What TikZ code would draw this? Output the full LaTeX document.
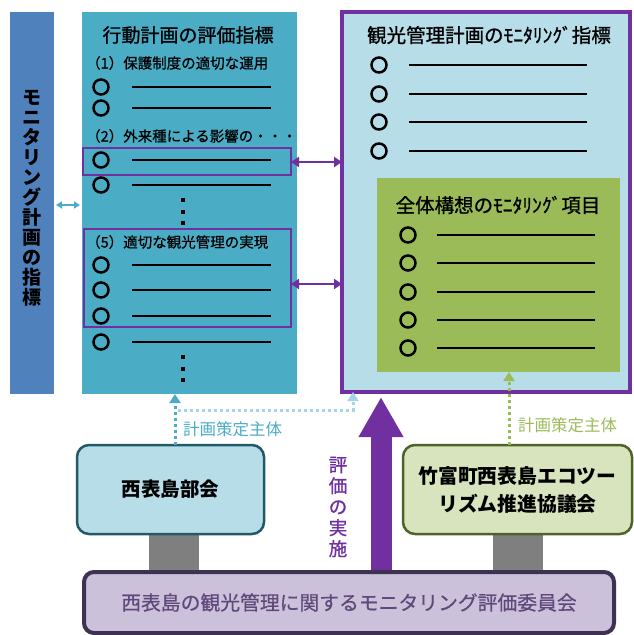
\documentclass[tikz,border=0pt]{standalone}
\usepackage{fontspec}
\setmainfont{Noto Sans CJK JP}
\newfontfamily\jpsemi[FakeBold=1.0]{Noto Sans CJK JP}
\newfontfamily\jplite[FakeBold=0.6]{Noto Sans CJK JP}
\usetikzlibrary{arrows.meta}
\definecolor{barblue}{HTML}{4F81BD}
\definecolor{actfill}{HTML}{4BACC6}
\definecolor{ltblue}{HTML}{B7DDE8}
\definecolor{purp}{HTML}{7030A0}
\definecolor{grn}{HTML}{9BBB59}
\definecolor{ltgrn}{HTML}{D7E4BD}
\definecolor{dkteal}{HTML}{215968}
\definecolor{dkolive}{HTML}{4F6228}
\definecolor{dkpurp}{HTML}{3F3151}
\definecolor{lav}{HTML}{CCC1DA}
\definecolor{lavtext}{HTML}{5F497A}
\definecolor{paleblue}{HTML}{A5D5E6}
\definecolor{greyc}{HTML}{7F7F7F}
\newcommand{\fsz}[2]{\fontsize{#1}{#2}\selectfont}
\begin{document}
\begin{tikzpicture}[x=1pt,y=-1pt,
  box/.style={anchor=north west, inner sep=0pt, outer sep=0pt},
  bullet/.style={circle, draw=black, line width=2.5pt, minimum size=15pt, inner sep=0pt},
  rule/.style={line width=2pt, black},
  dotmark/.style={fill=black, minimum size=3.5pt, inner sep=0pt},
  head/.style={anchor=west, inner sep=0pt, font=\jplite\fsz{14.5}{15}},
  dotline/.style={line width=3pt, dash pattern=on 3pt off 3pt},
  tri/.style={-{Triangle[length=9pt,width=11pt]}},
  dbl/.style={{Triangle[length=8pt,width=10pt]}-{Triangle[length=8pt,width=10pt]}}
]
\useasboundingbox (0,0) rectangle (633,635);

% left bar
\node[box, fill=barblue, minimum width=44pt, minimum height=382pt] (bar) at (10,12) {};
\node[inner sep=0pt, align=center, font=\bfseries\fsz{19}{20}] (bartext) at (32,198)
  {モ\\ニ\\タ\\リ\\ン\\グ\\計\\画\\の\\指\\標};

% action plan box
\node[box, fill=actfill, minimum width=215pt, minimum height=382pt] (act) at (82,12) {};
\node[inner sep=0pt, font=\jpsemi\fsz{19}{20}] (acttitle) at (188,35) {行動計画の評価指標};
\node[head] (h1) at (86,63) {（1）保護制度の適切な運用};
\node[head] (h2) at (86,136) {（2）外来種による影響の・・・};
\node[head] (h5) at (86,242) {（5）適切な観光管理の実現};
\foreach \y in {87,108,160,185,265,290,316,342} {
  \node[bullet] at (101,\y) {};
  \draw[rule] (132,\y) -- (271,\y);
}
\foreach \y in {200,212,223,357,369,380} \node[dotmark] at (183,\y) {};
\node[box, draw=purp, line width=2pt, minimum width=208pt, minimum height=27pt] (pb1) at (83,148) {};
\node[box, draw=purp, line width=2pt, minimum width=207pt, minimum height=98pt] (pb2) at (84,229) {};

% big box
\node[box, fill=ltblue, draw=purp, line width=3.5pt, minimum width=288pt, minimum height=380pt] (big) at (342,12) {};
\node[inner sep=0pt, font=\jpsemi\fsz{19.5}{20}] (bigtitle) at (489,35) {観光管理計画のﾓﾆﾀﾘﾝｸﾞ指標};
\foreach \y in {65,94,122,151} {
  \node[bullet] at (379,\y) {};
  \draw[rule] (409,\y) -- (587,\y);
}
% green box
\node[box, fill=grn, minimum width=243pt, minimum height=194pt] (gbox) at (377,178) {};
\node[inner sep=0pt, font=\jpsemi\fsz{19.5}{20}] (gtitle) at (498,205) {全体構想のﾓﾆﾀﾘﾝｸﾞ項目};
\foreach \y in {235,263,292,320,348} {
  \node[bullet] at (408,\y) {};
  \draw[rule] (437,\y) -- (595,\y);
}

% purple double arrows
\draw[purp, line width=2pt, dbl] ([yshift=-0.5pt]pb1.east) -- ([yshift=-0.5pt]pb1.east -| big.west);
\draw[purp, line width=2pt, dbl] ([yshift=-6pt]pb2.east) -- ([yshift=-6pt]pb2.east -| big.west);
% teal double arrow
\draw[actfill, line width=2pt, {Triangle[length=6pt,width=7pt]}-{Triangle[length=6pt,width=7pt]}, shorten <=2pt, shorten >=2pt] ([yshift=-2pt]bar.east) -- ([yshift=-2pt]act.west);

% grey connectors
\node[box, fill=greyc, minimum width=50pt, minimum height=40pt] (g1) at (149,533) {};
\node[box, fill=greyc, minimum width=50pt, minimum height=40pt] (g2) at (493,533) {};

% bottom boxes
\node[box, rounded corners=12pt, fill=ltblue, draw=dkteal, line width=2.5pt, minimum width=187pt, minimum height=89pt,
  font=\bfseries\fsz{19.5}{20}] (nishi) at (77,445) {西表島部会};
\node[box, rounded corners=12pt, fill=ltgrn, draw=dkolive, line width=2.5pt, minimum width=229pt, minimum height=89pt,
  align=center, font=\bfseries\fsz{19.8}{28}] (eco) at (403,445) {竹富町西表島エコツー\\リズム推進協議会};

% big purple arrow
\coordinate (pa) at (381,397);
\draw[purp, line width=21pt, -{Triangle[length=40pt,width=42pt]}] (pa |- 0,574) -- (pa);
\node[inner sep=0pt, align=center, text=purp, font=\jpsemi\fsz{18.5}{21}] (evaltext) at (338,507) {評\\価\\の\\実\\施};

% committee
\node[box, rounded corners=10pt, fill=lav, draw=dkpurp, line width=4pt, minimum width=530pt, minimum height=61pt,
  text=lavtext, font=\jplite\fsz{19.8}{20}] (comm) at (84,572) {西表島の観光管理に関するモニタリング評価委員会};

% teal dotted arrows
\coordinate (tc) at (175,420);
\coordinate (tj) at (175,410);
\coordinate (pc) at (353,410);
\draw[actfill, dotline, tri] (tc |- nishi.north) -- (tc |- act.south);
\draw[paleblue, dotline, tri] ([xshift=3pt]tj) -- (pc) -- (pc |- big.south);
\node[anchor=west, inner sep=0pt, text=actfill, font=\fsz{16.5}{17}] (t1) at (183,429) {計画策定主体};

% green dotted arrow
\coordinate (gc) at (509,420);
\draw[grn, dotline, tri] (gc |- eco.north) -- (gc |- gbox.south);
\node[anchor=west, inner sep=0pt, text=grn, font=\fsz{16.5}{17}] (t2) at (518,425) {計画策定主体};
\end{tikzpicture}
\end{document}
